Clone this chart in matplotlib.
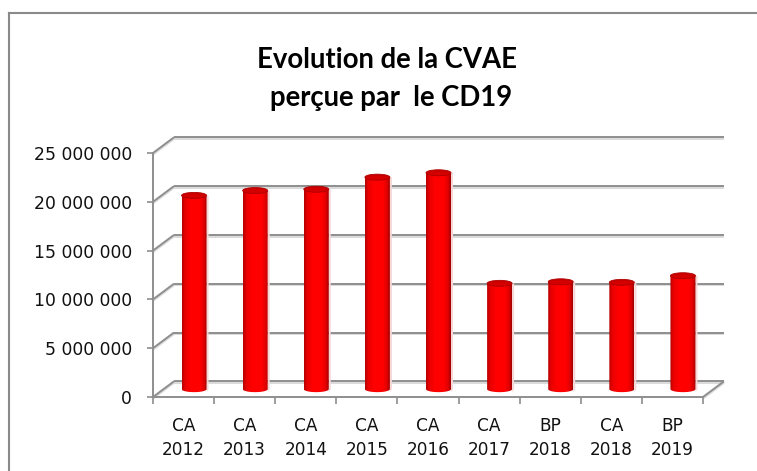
import numpy as np
import matplotlib
matplotlib.use("Agg")
import matplotlib.pyplot as plt
from matplotlib.path import Path
from matplotlib.patches import Ellipse, PathPatch
from matplotlib.colors import LinearSegmentedColormap
from matplotlib.lines import Line2D

# CVAE collected by the CD19, per budget document
categories = ["CA\n2012", "CA\n2013", "CA\n2014", "CA\n2015", "CA\n2016",
              "CA\n2017", "BP\n2018", "CA\n2018", "BP\n2019"]
cvae = [19_850_000, 20_350_000, 20_480_000, 21_720_000, 22_170_000,
        10_840_000, 11_000_000, 10_940_000, 11_620_000]
y_ticks = [0, 5_000_000, 10_000_000, 15_000_000, 20_000_000, 25_000_000]
title_lines = ["Evolution de la CVAE", "perçue par  le CD19"]

W, H, DPI = 757, 471, 100
fig = plt.figure(figsize=(W / DPI, H / DPI), dpi=DPI)
fig.patch.set_facecolor("white")

# front plane of the 3-D box, in pixels
left_px, right_px, top_px, bottom_px = 153, 703, 153, 397
ax = fig.add_axes([left_px / W, 1 - bottom_px / H,
                   (right_px - left_px) / W, (bottom_px - top_px) / H])
n = len(categories)
ymax = y_ticks[-1]
ax.set_xlim(0, n)
ax.set_ylim(0, ymax)

# depth offset of the back wall, expressed in data units
px_x = n / (right_px - left_px)
px_y = ymax / (bottom_px - top_px)
DX = 21 * px_x
DY = 15.7 * px_y

grid_c = "#8e8e8e"
shadow_c = "#dadada"

def gline(xs, ys, z=1):
    ax.plot(xs, [y - 1.6 * px_y for y in ys], color=shadow_c, lw=1.4,
            solid_capstyle="butt", clip_on=False, zorder=z)
    ax.plot(xs, ys, color=grid_c, lw=1.4, solid_capstyle="butt",
            clip_on=False, zorder=z + 0.1)

# back wall gridlines and side-wall diagonals
for v in y_ticks:
    gline([DX, n + DX], [v + DY, v + DY])
    gline([0, DX], [v, v + DY])
# right edge of the floor
gline([n, n + DX], [0, DY])

# spines / ticks
for s in ("top", "right"):
    ax.spines[s].set_visible(False)
for s in ("left", "bottom"):
    ax.spines[s].set_color(grid_c)
    ax.spines[s].set_linewidth(1.4)
    ax.spines[s].set_zorder(3)
ax.patch.set_alpha(0)

ax.set_yticks(y_ticks)
ax.set_yticklabels([f"{v:,}".replace(",", " ") for v in y_ticks])
ax.tick_params(axis="y", length=4.5, width=1.2, color=grid_c, pad=10.5,
               labelsize=12.4, labelcolor="#111111")

ax.set_xticks(np.arange(n) + 0.5)
ax.set_xticklabels(categories, linespacing=1.42)
ax.set_xticks(np.arange(n + 1), minor=True)
ax.tick_params(axis="x", which="major", length=0, pad=14.5,
               labelsize=12.2, labelcolor="#111111")
ax.tick_params(axis="x", which="minor", length=5, width=1.2, color=grid_c)

# cylinders
bar_w = 25 * px_x
ell_h = 6 * px_y
cmap = LinearSegmentedColormap.from_list(
    "cyl", [(0.0, "#b40000"), (0.12, "#e80000"), (0.35, "#ff0000"),
            (0.72, "#ff0000"), (0.9, "#dc0000"), (1.0, "#a00000")])
grad = np.linspace(0, 1, 64).reshape(1, -1)

for i, v in enumerate(cvae):
    cx = i + 0.5 + DX / 2
    base = DY / 2
    top = v + DY / 2
    x0, x1 = cx - bar_w / 2, cx + bar_w / 2
    t = np.linspace(np.pi, 2 * np.pi, 30)
    arc_x = cx + bar_w / 2 * np.cos(t)
    arc_y = base + ell_h / 2 * np.sin(t)
    verts = [(x0, top)] + list(zip(arc_x, arc_y)) + [(x1, top), (x0, top)]
    codes = [Path.MOVETO] + [Path.LINETO] * (len(verts) - 2) + [Path.CLOSEPOLY]
    body = PathPatch(Path(verts, codes), facecolor="none", edgecolor="none",
                     clip_on=False, zorder=4)
    ax.add_patch(body)
    # soft shadow on the right side
    ax.add_patch(PathPatch(Path([(x1, top), (x1 + 2.0 * px_x, top),
                                 (x1 + 2.0 * px_x, base),
                                 (x1, base - ell_h / 2), (x1, top)]),
                           facecolor="#f6d6d6", edgecolor="none",
                           clip_on=False, zorder=3.9))
    im = ax.imshow(grad, cmap=cmap, aspect="auto",
                   extent=(x0, x1, base - ell_h, top), zorder=4,
                   interpolation="bilinear")
    im.set_clip_path(body)
    ax.add_patch(Ellipse((cx, top), bar_w, ell_h, facecolor="#c80000",
                         edgecolor="#b00000", lw=0.6, clip_on=False, zorder=5))
    ax.add_patch(Ellipse((cx, top - 0.08 * ell_h), bar_w * 0.86, ell_h * 0.6,
                         facecolor="#d40000", edgecolor="none",
                         clip_on=False, zorder=5.1))

ax.set_xlim(0, n)
ax.set_ylim(0, ymax)

# title
tfont = dict(family="Lato", weight="bold", size=19.8, color="#000000")
fig.text(387 / W, 1 - 68.3 / H, title_lines[0], ha="center", va="baseline", **tfont)
fig.text(391 / W, 1 - 105.7 / H, title_lines[1], ha="center", va="baseline", **tfont)

# chart-area frame
fig.add_artist(Line2D([9 / W, 9 / W], [0, 1 - 13 / H], transform=fig.transFigure,
                      color="#8a8a8a", lw=1.5))
fig.add_artist(Line2D([9 / W, 1], [1 - 13 / H, 1 - 13 / H], transform=fig.transFigure,
                      color="#8a8a8a", lw=1.5))

fig.savefig("out.png", dpi=DPI, facecolor="white")
